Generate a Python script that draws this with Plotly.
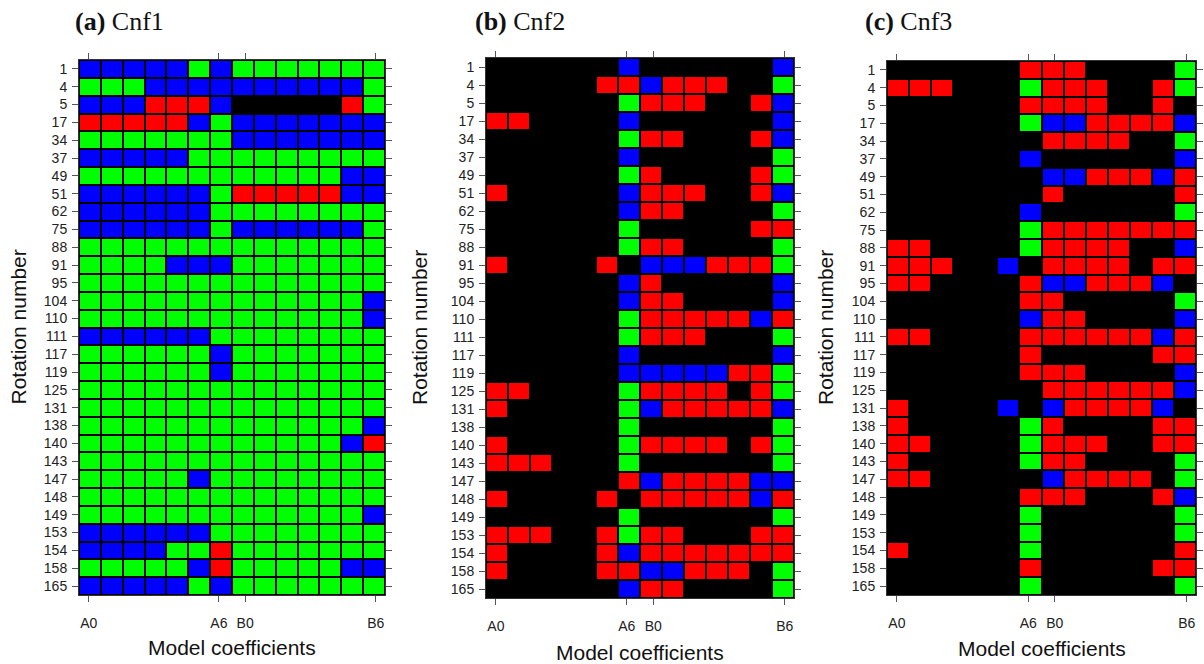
import plotly.graph_objects as go

rows = ["1", "4", "5", "17", "34", "37", "49", "51", "62", "75", "88", "91", "95", "104",
        "110", "111", "117", "119", "125", "131", "138", "140", "143", "147", "148", "149",
        "153", "154", "158", "165"]
coefs = ["A0", "A1", "A2", "A3", "A4", "A5", "A6", "B0", "B1", "B2", "B3", "B4", "B5", "B6"]
tick_coefs = ["A0", "A6", "B0", "B6"]

# K = black, R = red, G = green, B = blue (one string per rotation, columns A0..B6)
cnf1 = [
    "BBBBBGBGGGGGGG", "GGGBBBBBBBBBBG", "BBBRRRBKKKKKRG", "RRRRRBGBBBBBBB",
    "GGGGGGGBBBBBBB", "BBBBBGGGGGGGGG", "GGGGGGGGGGGGBB", "BBBBBBGRRRRRBB",
    "BBBBBBGGGGGGGG", "BBBBBBGBBBBBBG", "GGGGGGGGGGGGGG", "GGGGBBBGGGGGGG",
    "GGGGGGGGGGGGGG", "GGGGGGGGGGGGGB", "GGGGGGGGGGGGGB", "BBBBBBGGGGGGGG",
    "GGGGGGBGGGGGGG", "GGGGGGBGGGGGGG", "GGGGGGGGGGGGGG", "GGGGGGGGGGGGGG",
    "GGGGGGGGGGGGGB", "GGGGGGGGGGGGBR", "GGGGGGGGGGGGGG", "GGGGGBGGGGGGGG",
    "GGGGGGGGGGGGGG", "GGGGGGGGGGGGGB", "BBBBBBGGGGGGGG", "BBBBGGRGGGGGGG",
    "GGGGGBRGGGGGBB", "BBBBBGBGGGGGGG",
]
cnf2 = [
    "KKKKKKBKKKKKKB", "KKKKKRRBRRRKKG", "KKKKKKGRRRKKRB", "RRKKKKBKKKKKKB",
    "KKKKKKGRRKKKRB", "KKKKKKBKKKKKKG", "KKKKKKGRKKKKRG", "RKKKKKBRRRKKRB",
    "KKKKKKBRRKKKKG", "KKKKKKGKKKKKRR", "KKKKKKGRRKKKKG", "RKKKKRKBBBRRRG",
    "KKKKKKBRKKKKKB", "KKKKKKBRRKKKKB", "KKKKKKGRRRRRBR", "KKKKKKGRRRKKKG",
    "KKKKKKBKKKKKKB", "KKKKKKBBBBBRRG", "RRKKKKGRRRRKRG", "RKKKKKGBRRRRRB",
    "KKKKKKGKKKKKKG", "RKKKKKGRRRRKRG", "RRRKKKGKKKKKKG", "KKKKKKRBRRRRBB",
    "RKKKKRKRRRRRBR", "KKKKKKGKKKKKKG", "RRRKKRGRRKKKRR", "RKKKKRBRRRRRRR",
    "RKKKKRRBBRRRKG", "KKKKKKBRRKKKKG",
]
cnf3 = [
    "KKKKKKRRRKKKKG", "RRRKKKGRRRKKRG", "KKKKKKRRRRKKRK", "KKKKKKGBBRRRRB",
    "KKKKKKKRRRRKKG", "KKKKKKBKKKKKKB", "KKKKKKKBBRRRBR", "KKKKKKKRKKKKKR",
    "KKKKKKBKKKKKKG", "KKKKKKGRRRRRRR", "RRKKKKGRRRRKKB", "RRRKKBKRRRRKRR",
    "RRKKKKRBBRRRBK", "KKKKKKRRKKKKKG", "KKKKKKBRRKKKKB", "RRKKKKRRRRRRBR",
    "KKKKKKRKKKKKRR", "KKKKKKRRRKKKKB", "KKKKKKKRRRRRRB", "RKKKKBKBRRRRBK",
    "RKKKKKGRKKKKRR", "RRKKKKGRRRKKRR", "RKKKKKGRRKKKKG", "RRKKKKKBRRRRKG",
    "KKKKKKRRRKKKRB", "KKKKKKGKKKKKKG", "KKKKKKGKKKKKKG", "RKKKKKGKKKKKKR",
    "KKKKKKRKKKKKRR", "KKKKKKGKKKKKKG",
]
panel_titles = [("(a)", "Cnf1"), ("(b)", "Cnf2"), ("(c)", "Cnf3")]

code_val = {"K": 0, "R": 1, "G": 2, "B": 3}
colorscale = [[0, "#000000"], [0.25, "#000000"], [0.25, "#ff0000"], [0.5, "#ff0000"],
              [0.5, "#00ff00"], [0.75, "#00ff00"], [0.75, "#0000ff"], [1, "#0000ff"]]

W, H = 1204, 664
# plot areas in pixels: (left, right, top, bottom)
areas = [(79, 385, 60, 595), (486, 794, 58, 598), (887, 1196, 61, 595)]
ytitle_x = [18, 420, 826]
xtitle_y = [647, 652, 648]
title_pos = [(73, 22), (473, 22), (863, 22)]
tick_shift = {"A0": -0.05, "A6": -0.1, "B0": 0.1, "B6": 0.08}

xidx = list(range(len(coefs)))
tickvals = [coefs.index(c) + tick_shift[c] for c in tick_coefs]

fig = go.Figure()
for i, data in enumerate([cnf1, cnf2, cnf3]):
    z = [[code_val[c] for c in r] for r in data]
    ax = "" if i == 0 else str(i + 1)
    fig.add_trace(go.Heatmap(
        z=z, x=xidx, y=rows, colorscale=colorscale, zmin=-0.5, zmax=3.5,
        showscale=False, xgap=2, ygap=2, hoverinfo="skip",
        xaxis="x" + ax, yaxis="y" + ax))
    l, r, t, b = areas[i]
    axis_common = dict(showline=True, linecolor="#333333", linewidth=1, mirror="ticks",
                       ticks="outside", ticklen=6, tickcolor="#555555", showgrid=False,
                       zeroline=False, tickfont=dict(family="Liberation Sans", size=14, color="#222"))
    fig.layout["xaxis" + ax] = dict(domain=[l / W, r / W], anchor="y" + ax,
                                    range=[-0.5, len(coefs) - 0.5],
                                    tickmode="array", tickvals=tickvals, ticktext=tick_coefs,
                                    ticklabelstandoff=9, **axis_common)
    fig.layout["yaxis" + ax] = dict(domain=[1 - b / H, 1 - t / H], anchor="x" + ax, type="category",
                                    categoryorder="array", categoryarray=rows,
                                    autorange="reversed", ticklabelstandoff=2, **axis_common)
    cx = (l + r) / 2
    cy = (t + b) / 2
    fig.add_annotation(x=ytitle_x[i] / W, y=1 - cy / H, xref="paper", yref="paper",
                       xanchor="center", yanchor="middle",
                       text="Rotation number", textangle=-90, showarrow=False,
                       font=dict(family="Liberation Sans", size=21, color="#111"))
    fig.add_annotation(x=cx / W, y=1 - xtitle_y[i] / H, xref="paper", yref="paper",
                       xanchor="center", yanchor="middle",
                       text="Model coefficients", showarrow=False,
                       font=dict(family="Liberation Sans", size=21, color="#111"))
    tx, ty = title_pos[i]
    fig.add_annotation(x=tx / W, y=1 - ty / H, xref="paper", yref="paper",
                       xanchor="left", yanchor="middle",
                       text="<b>" + panel_titles[i][0] + "</b> " + panel_titles[i][1],
                       showarrow=False,
                       font=dict(family="Liberation Serif", size=26, color="#111"))

fig.update_layout(width=W, height=H, margin=dict(l=0, r=0, t=0, b=0),
                  paper_bgcolor="white", plot_bgcolor="black")
fig.write_html("out.html")
